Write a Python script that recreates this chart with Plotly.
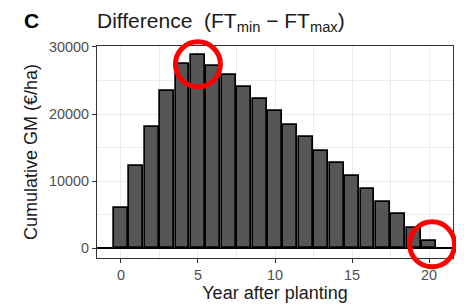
import plotly.graph_objects as go

years = list(range(0, 21))
cum_gm = [6000, 12200, 18000, 23400, 27450, 28750, 27100, 25850, 24100, 22250,
          20400, 18400, 16550, 14550, 12700, 10800, 8850, 6850, 5050, 3050, 1050]
highlight_years = [5, 20]
y_ticks = [0, 10000, 20000, 30000]
x_ticks = [0, 5, 10, 15, 20]

FONT = "Liberation Sans"
x_range = [-1.55, 21.55]
y_range = [-1435, 30135]

fig = go.Figure()
fig.add_trace(go.Bar(
    x=years, y=cum_gm, width=0.9,
    marker=dict(color="#565656", line=dict(color="black", width=1.7)),
))

# red circles highlighting chosen years (positioned in paper coords derived from data)
circle_offsets = {5: (0, -9), 20: (3, -3)}
for yr in highlight_years:
    val = cum_gm[years.index(yr)]
    px = (yr - x_range[0]) / (x_range[1] - x_range[0])
    py = (val - y_range[0]) / (y_range[1] - y_range[0])
    dx, dy = circle_offsets[yr]
    r = 22.5
    fig.add_shape(type="circle", xref="paper", yref="paper",
                  xsizemode="pixel", ysizemode="pixel",
                  xanchor=px, yanchor=py,
                  x0=dx - r, x1=dx + r, y0=dy - r, y1=dy + r,
                  line=dict(color="#ff0000", width=5), layer="above")

fig.update_layout(
    width=464, height=306,
    margin=dict(l=89, r=19, t=38, b=56),
    paper_bgcolor="white", plot_bgcolor="white",
    showlegend=False,
    font=dict(family=FONT, color="black"),
    bargap=0,
)
fig.update_xaxes(
    automargin=False,
    range=x_range, tickvals=x_ticks, ticktext=[str(v) for v in x_ticks],
    showline=True, linecolor="#333333", linewidth=1.3, mirror=True,
    ticks="outside", ticklen=4, tickcolor="#333333", tickwidth=1.1,
    tickfont=dict(size=14.4, color="#4d4d4d", family=FONT),
    showgrid=True, gridcolor="#ebebeb", gridwidth=1.1,
    minor=dict(dtick=2.5, tick0=0, showgrid=True, gridcolor="#ebebeb", gridwidth=0.6),
    zeroline=False,
    title=dict(text="Year after planting", font=dict(size=18, color="#1a1a1a", family=FONT), standoff=0),
)
fig.update_yaxes(
    automargin=False,
    range=y_range, tickvals=y_ticks, ticktext=[str(v) for v in y_ticks],
    showline=True, linecolor="#333333", linewidth=1.3, mirror=True,
    ticks="outside", ticklen=4, tickcolor="#333333", tickwidth=1.1,
    tickfont=dict(size=14.4, color="#4d4d4d", family=FONT),
    showgrid=True, gridcolor="#ebebeb", gridwidth=1.1,
    minor=dict(dtick=5000, tick0=0, showgrid=True, gridcolor="#ebebeb", gridwidth=0.6),
    zeroline=True, zerolinecolor="black", zerolinewidth=1.5,
    title=dict(text="Cumulative GM (€/ha)", font=dict(size=18, color="#1a1a1a", family=FONT), standoff=6),
)

fig.add_annotation(text="<b>C</b>", xref="paper", yref="paper", x=-0.2, y=1,
                   xanchor="left", yanchor="bottom", yshift=12, xshift=-4, showarrow=False,
                   font=dict(size=21, color="black", family=FONT))
fig.add_annotation(text="Difference  (FT<sub>min</sub> − FT<sub>max</sub>)",
                   xref="paper", yref="paper", x=0, y=1,
                   xanchor="left", yanchor="bottom", yshift=9, xshift=-2, showarrow=False,
                   font=dict(size=21, color="#1a1a1a", family=FONT))

fig.write_html("out.html")
